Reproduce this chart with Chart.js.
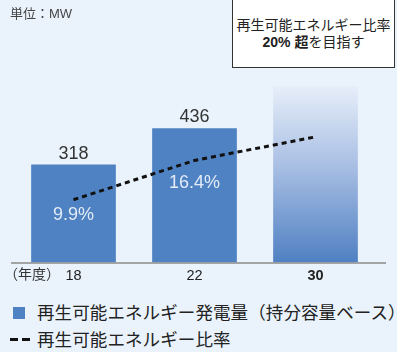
<!DOCTYPE html>
<html lang="ja">
<head>
<meta charset="utf-8">
<script src="https://cdn.jsdelivr.net/npm/chart.js@4/dist/chart.umd.min.js"></script>
<style>
  html, body { margin: 0; padding: 0; }
  body {
    width: 397px; height: 352px; overflow: hidden; position: relative;
    background: #eaf3fc;
    font-family: "Liberation Sans", "Noto Sans CJK JP", sans-serif;
    color: #222;
  }
  #chart { position: absolute; left: 0; top: 0; }
  .unit { position: absolute; left: 10px; top: 3px; font-size: 13px; color: #444; }
  .target {
    position: absolute; left: 232px; top: -1px; width: 163px; height: 69px;
    box-sizing: border-box; background: #fff; border: 1px solid #333;
    text-align: center; font-size: 14px; line-height: 17px; padding-top: 17px; color: #222;
  }
  .target b { font-weight: bold; }
  .legend { position: absolute; left: 0; font-size: 17.5px; white-space: nowrap; color: #222; }
  .legend.bar { top: 302px; }
  .legend.line { top: 329px; }
  .swatch { position: absolute; left: 13px; top: 5px; width: 12px; height: 12px; background: #4f82c3; }
  .dash { position: absolute; top: 9px; width: 8px; height: 3px; background: #111; }
  .legend span.txt { position: absolute; left: 37px; top: 0; line-height: 22px; letter-spacing: 0.1px; }
</style>
</head>
<body>
<canvas id="chart" width="397" height="295"></canvas>
<div class="unit">単位：MW</div>
<div class="target">再生可能エネルギー比率<br><b>20% 超</b>を目指す</div>
<div class="legend bar"><div class="swatch"></div><span class="txt">再生可能エネルギー発電量（持分容量ベース）</span></div>
<div class="legend line"><div class="dash" style="left:10px"></div><div class="dash" style="left:22px"></div><span class="txt">再生可能エネルギー比率</span></div>
<script>
// 発電量 (MW) と再エネ比率 (%) — 30年度は目標値
const years        = ['18', '22', '30'];
const capacityMW   = [318, 436, 572];
const renewableRatio = [9.9, 16.4, 20.3];
const targetIndex  = 2;

const BAR_BLUE  = '#4f82c3';
const TEXT      = '#333';
const FONT      = '"Liberation Sans", "Noto Sans CJK JP", sans-serif';

// 目標年度の棒はグラデーション
function barFill(ctx) {
  if (ctx.dataIndex !== targetIndex) return BAR_BLUE;
  const { chart } = ctx;
  const area = chart.chartArea;
  if (!area) return BAR_BLUE;
  const yScale = chart.scales.y;
  const top = yScale.getPixelForValue(capacityMW[targetIndex]);
  const g = chart.ctx.createLinearGradient(0, top, 0, area.bottom);
  g.addColorStop(0, '#e6eef9');
  g.addColorStop(0.45, '#a9bfe4');
  g.addColorStop(1, '#4f80c2');
  return g;
}

const labelsPlugin = {
  id: 'valueLabels',
  afterDatasetsDraw(chart) {
    const { ctx, chartArea } = chart;
    const bars = chart.getDatasetMeta(1).data;
    const pts  = chart.getDatasetMeta(0).data;
    const pctOffset = [15, 23];
    ctx.save();
    ctx.textAlign = 'center';
    ctx.textBaseline = 'middle';
    ctx.font = '18px ' + FONT;
    bars.forEach((b, i) => {
      if (i === targetIndex) return;
      ctx.fillStyle = TEXT;
      ctx.fillText(String(capacityMW[i]), b.x, b.y - 11);
      ctx.fillStyle = '#e2ebf7';
      ctx.fillText(renewableRatio[i].toFixed(1) + '%', b.x, pts[i].y + pctOffset[i]);
    });
    // 横軸の線
    ctx.strokeStyle = '#8a8a8a';
    ctx.lineWidth = 1.5;
    ctx.beginPath();
    ctx.moveTo(11, chartArea.bottom + 0.5);
    ctx.lineTo(386, chartArea.bottom + 0.5);
    ctx.stroke();
    // （年度）
    ctx.textAlign = 'left';
    ctx.font = '14px ' + FONT;
    ctx.fillStyle = TEXT;
    ctx.fillText('（年度）', 4, chartArea.bottom + 13);
    ctx.restore();
  }
};

new Chart(document.getElementById('chart'), {
  data: {
    labels: years,
    datasets: [
      {
        type: 'line',
        data: renewableRatio,
        yAxisID: 'y2',
        borderColor: '#111',
        borderWidth: 3,
        borderDash: [5, 4],
        pointRadius: 0,
        tension: 0,
        order: 0,
      },
      {
        type: 'bar',
        data: capacityMW,
        yAxisID: 'y',
        backgroundColor: barFill,
        barPercentage: 0.7,
        categoryPercentage: 1,
        order: 1,
      }
    ]
  },
  options: {
    responsive: false,
    animation: false,
    devicePixelRatio: 1,
    layout: { padding: { left: 13, right: 21, top: 19, bottom: 5 } },
    plugins: { legend: { display: false }, tooltip: { enabled: false } },
    scales: {
      x: {
        grid: { display: false, drawTicks: false },
        border: { display: false },
        ticks: {
          padding: 5,
          color: '#222',
          font: ctx => ({ family: FONT, size: 14.5, weight: ctx.index === targetIndex ? 'bold' : 'normal' })
        }
      },
      y:  { display: false, min: 0, max: 790 },
      y2: { display: false, min: -0.5, max: 39.8 }
    }
  },
  plugins: [labelsPlugin]
});
</script>
</body>
</html>
